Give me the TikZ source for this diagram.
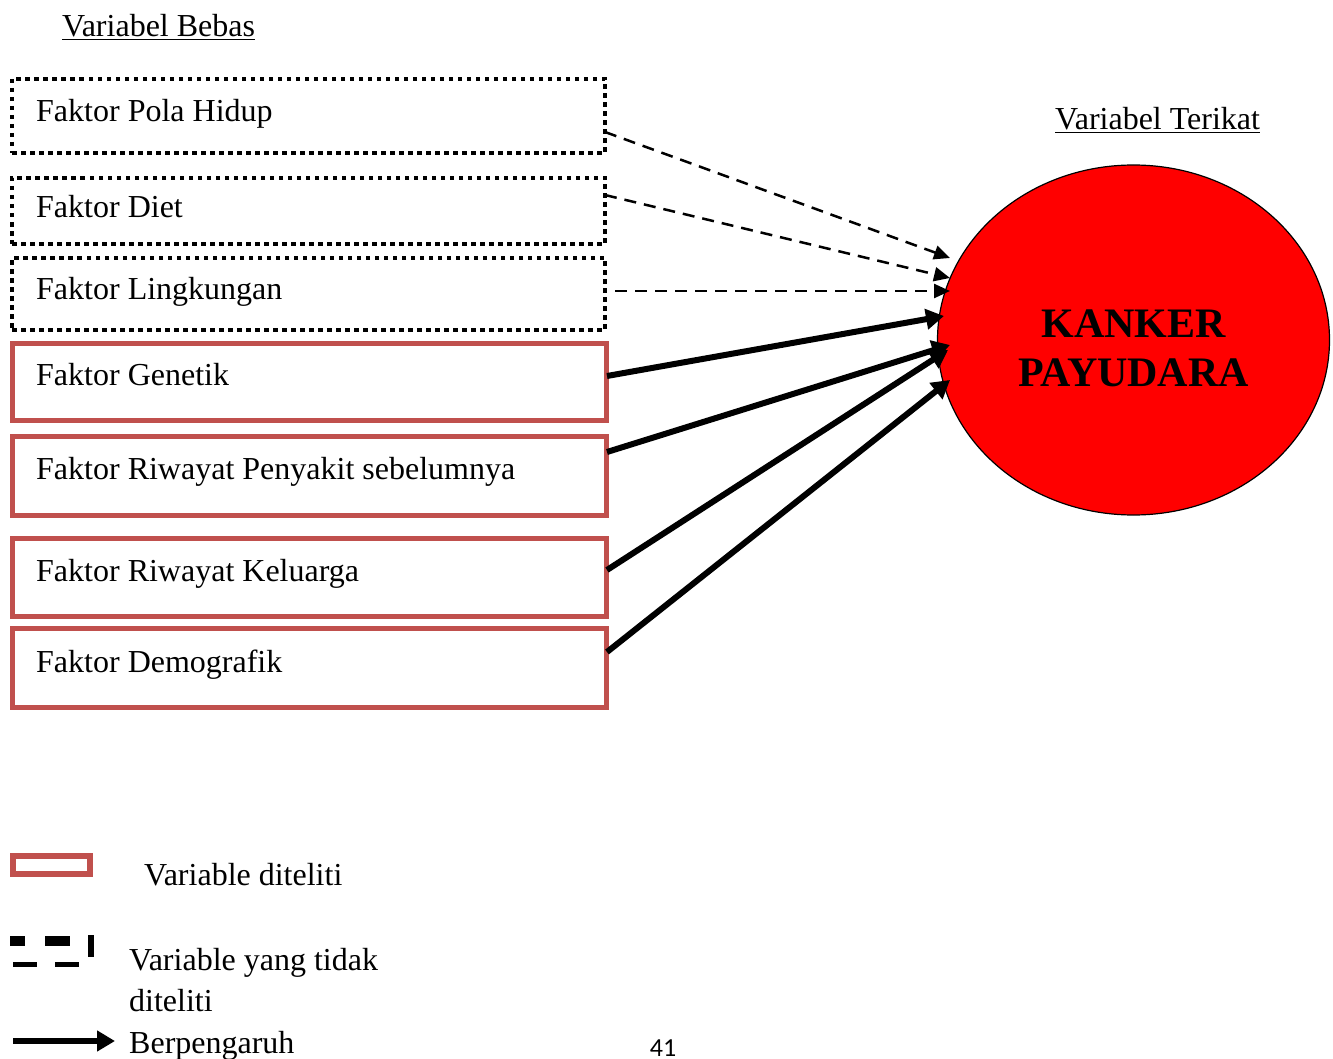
\documentclass[tikz,border=0pt]{standalone}
\usepackage{fontspec}
\setmainfont{Liberation Serif}
\newfontfamily\pagefont{Carlito}
\usetikzlibrary{arrows.meta,shapes.geometric}
\definecolor{boxred}{HTML}{C0504D}
\tikzset{
  dotbox/.style={draw=black, line width=4.5pt, dash pattern=on 4.5pt off 4.5pt, minimum width=593pt, anchor=north west, inner sep=0pt, outer sep=0pt},
  redbox/.style={draw=boxred, line width=5pt, minimum width=594pt, anchor=north west, inner sep=0pt, outer sep=0pt},
  lbl/.style={anchor=base west, inner sep=0pt, font=\fontsize{32}{38}\selectfont},
  dasharrow/.style={line width=2.5pt, dash pattern=on 12pt off 8pt, -{Triangle[length=16pt,width=14pt]}},
  solidarrow/.style={line width=6pt, -{Triangle[length=18pt,width=20pt]}},
}
\begin{document}
\begin{tikzpicture}[x=1pt,y=-1pt]
\useasboundingbox (0,0) rectangle (1333,1059);
% headings
\node[lbl] (hb) at (62,37) {\underline{Variabel Bebas}};
\node[lbl] (ht) at (1055,130) {\underline{Variabel Terikat}};
% dotted boxes
\node[dotbox, minimum height=74pt] (b1) at (12,79) {};
\node[dotbox, minimum height=66pt] (b2) at (12,178) {};
\node[dotbox, minimum height=72pt] (b3) at (12,258) {};
% red boxes
\node[redbox, minimum height=77pt] (b4) at (12,343) {};
\node[redbox, minimum height=79pt] (b5) at (12,436) {};
\node[redbox, minimum height=78pt] (b6) at (12,538) {};
\node[redbox, minimum height=79pt] (b7) at (12,628) {};
% labels
\node[lbl] (t1) at (36,122) {Faktor Pola Hidup};
\node[lbl] (t2) at (36,218) {Faktor Diet};
\node[lbl] (t3) at (36,299) {Faktor Lingkungan};
\node[lbl] (t4) at (36,385) {Faktor Genetik};
\node[lbl] (t5) at (36,479) {Faktor Riwayat Penyakit sebelumnya};
\node[lbl] (t6) at (36,581) {Faktor Riwayat Keluarga};
\node[lbl] (t7) at (36,672) {Faktor Demografik};
% ellipse
\node[ellipse, draw=black, line width=1.2pt, fill=red, minimum width=392pt, minimum height=350pt, inner sep=0pt] (kp) at (1133.5,340) {};
\node[anchor=base, inner sep=0pt, font=\fontsize{42}{48}\selectfont\bfseries] (k1) at (1133.5,337) {KANKER};
\node[anchor=base, inner sep=0pt, font=\fontsize{42}{48}\selectfont\bfseries] (k2) at (1133.5,386) {PAYUDARA};
% connector end points
\coordinate (s1) at (605,132);
\coordinate (s2) at (605,195);
\coordinate (s3) at (615,291);
\coordinate (e1) at (950,258);
\coordinate (e2) at (950,278);
\coordinate (e3) at (950,291);
\coordinate (s4) at (607,376);
\coordinate (s5) at (607,452);
\coordinate (s6) at (607,570);
\coordinate (s7) at (607,652);
\coordinate (e4) at (944,316);
\coordinate (e5) at (950,345);
\coordinate (e6) at (948,350);
\coordinate (e7) at (950,380);
\draw[dasharrow] (s1) -- (e1);
\draw[dasharrow] (s2) -- (e2);
\draw[dasharrow] (s3) -- (e3);
\draw[solidarrow] (s4) -- (e4);
\draw[solidarrow] (s5) -- (e5);
\draw[solidarrow] (s6) -- (e6);
\draw[solidarrow] (s7) -- (e7);
% legend
\node[draw=boxred, line width=6pt, minimum width=77pt, minimum height=18pt, anchor=north west, inner sep=0pt, outer sep=0pt] (lg1) at (13,856) {};
\node[lbl] (lt1) at (144,885) {Variable diteliti};
\fill (10,936) rectangle (25,946);
\fill (45,936) rectangle (70,946);
\fill (88,935) rectangle (94,957);
\fill (13,962) rectangle (37,967);
\fill (55,962) rectangle (79,967);
\node[lbl] (lt2) at (129,970) {Variable yang tidak};
\node[lbl] (lt3) at (129,1011) {diteliti};
\coordinate (la) at (13,1041);
\coordinate (lb) at (115,1041);
\draw[solidarrow] (la) -- (lb);
\node[lbl] (lt4) at (129,1053) {Berpengaruh};
\node[anchor=base, inner sep=0pt, font=\pagefont\fontsize{26}{30}\selectfont] (pg) at (663,1056) {41};
\end{tikzpicture}
\end{document}
